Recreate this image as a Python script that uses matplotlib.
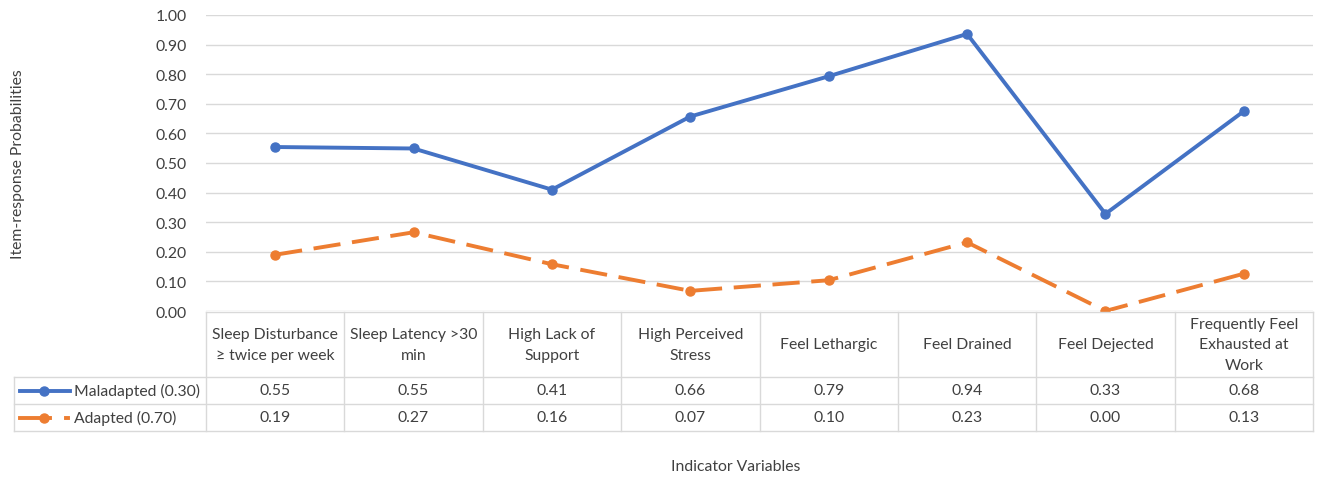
import matplotlib
matplotlib.use("Agg")
import matplotlib.pyplot as plt
from matplotlib.lines import Line2D

plt.rcParams['font.family'] = ['Lato', 'DejaVu Sans']

categories = ["Sleep Disturbance\n\u2265 twice per week", "Sleep Latency >30\nmin", "High Lack of\nSupport",
              "High Perceived\nStress", "Feel Lethargic", "Feel Drained", "Feel Dejected",
              "Frequently Feel\nExhausted at\nWork"]
maladapted = [0.554, 0.549, 0.41, 0.657, 0.793, 0.936, 0.328, 0.675]
adapted = [0.19, 0.266, 0.158, 0.068, 0.104, 0.232, 0.0, 0.126]
series_names = ["Maladapted (0.30)", "Adapted (0.70)"]
yticks = [0.0, 0.1, 0.2, 0.3, 0.4, 0.5, 0.6, 0.7, 0.8, 0.9, 1.0]

W, H = 1320, 481
fig = plt.figure(figsize=(W / 100, H / 100), dpi=100)

def fx(px):
    return px / W

def fy(py):
    return 1 - py / H

x_left, x_right = 206, 1313
y_top, y_bot = 16, 312
ax = fig.add_axes([fx(x_left), fy(y_bot), fx(x_right) - fx(x_left), fy(y_top) - fy(y_bot)])
n = len(categories)
xs = list(range(n))
blue = "#4472C4"
orange = "#ED7D31"
grid_c = "#D9D9D9"
text_c = "#404040"

ax.plot(xs, maladapted, color=blue, lw=2.8, marker="o", ms=6.5, zorder=3, solid_capstyle="round")
ax.plot(xs, adapted, color=orange, lw=2.8, marker="o", ms=6.5, zorder=3, dashes=(7, 3))
ax.set_xlim(-0.5, n - 0.5)
ax.set_ylim(0, 1.0)
ax.set_yticks(yticks)
fs = 11.3
ax.set_yticklabels([f"{v:.2f}" for v in yticks], fontsize=fs, color=text_c)
ax.tick_params(axis="y", length=0, pad=14)
ax.set_xticks([])
for s in ax.spines.values():
    s.set_visible(False)
ax.grid(axis="y", color=grid_c, lw=1)
ax.set_axisbelow(True)
ax.patch.set_alpha(0)

# Data table
col_w = (x_right - x_left) / n
rows_y = [313, 378, 405, 432]
lab_left = 14
lc = grid_c
lw = 1
fig.add_artist(Line2D([fx(x_left), fx(x_right)], [fy(rows_y[0])] * 2, color=lc, lw=lw))
for yy in rows_y[1:]:
    fig.add_artist(Line2D([fx(lab_left), fx(x_right)], [fy(yy)] * 2, color=lc, lw=lw))
for i in range(n + 1):
    xx = x_left + i * col_w
    fig.add_artist(Line2D([fx(xx)] * 2, [fy(rows_y[0]), fy(rows_y[3])], color=lc, lw=lw))
fig.add_artist(Line2D([fx(lab_left)] * 2, [fy(rows_y[1]), fy(rows_y[3])], color=lc, lw=lw))

for i, c in enumerate(categories):
    cx = x_left + (i + 0.5) * col_w
    fig.text(fx(cx), fy((rows_y[0] + rows_y[1]) / 2), c, ha="center", va="center",
             fontsize=fs, color=text_c, linespacing=1.55)
    fig.text(fx(cx), fy((rows_y[1] + rows_y[2]) / 2), f"{maladapted[i]:.2f}", ha="center", va="center",
             fontsize=fs, color=text_c)
    fig.text(fx(cx), fy((rows_y[2] + rows_y[3]) / 2), f"{adapted[i]:.2f}", ha="center", va="center",
             fontsize=fs, color=text_c)

ym = fy((rows_y[1] + rows_y[2]) / 2)
fig.add_artist(Line2D([fx(20), fx(70)], [ym, ym], color=blue, lw=2.8))
fig.add_artist(Line2D([fx(44)], [ym], color=blue, marker="o", ms=6.5, lw=0))
ya = fy((rows_y[2] + rows_y[3]) / 2)
fig.add_artist(Line2D([fx(20), fx(50)], [ya, ya], color=orange, lw=2.8))
fig.add_artist(Line2D([fx(44)], [ya], color=orange, marker="o", ms=6.5, lw=0))
fig.add_artist(Line2D([fx(66), fx(68)], [ya, ya], color=orange, lw=2.8))
fig.text(fx(74), ym, series_names[0], ha="left", va="center", fontsize=fs, color=text_c)
fig.text(fx(74), ya, series_names[1], ha="left", va="center", fontsize=fs, color=text_c)

fig.text(fx(18), fy(164), "Item-response Probabilities", rotation=90, ha="center", va="center",
         fontsize=fs, color=text_c)
fig.text(fx(736), fy(467), "Indicator Variables", ha="center", va="center", fontsize=fs, color=text_c)

fig.savefig("out.png", dpi=100)
